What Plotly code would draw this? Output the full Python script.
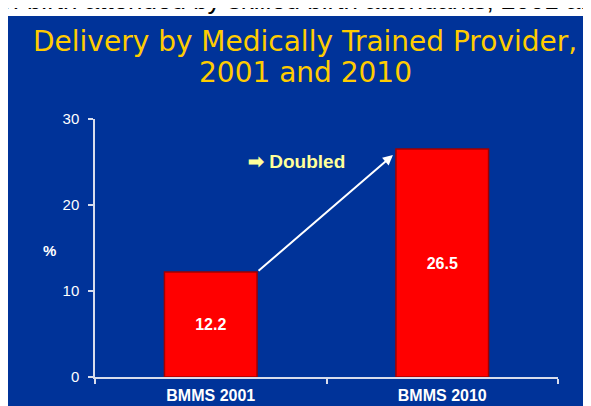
import plotly.graph_objects as go

categories = ["BMMS 2001", "BMMS 2010"]
values = [12.2, 26.5]
value_labels = ["12.2", "26.5"]
y_ticks = [0, 10, 20, 30]

BLUE = "#003399"
W, H = 591, 406
L, R, T, B = 87, 41, 111, 37
pw, ph = W - L - R, H - T - B


def px_x(px):
    return (px - L) / pw


def px_y(py):
    return (H - B - py) / ph


fig = go.Figure()
fig.add_trace(go.Bar(
    x=categories, y=values, width=0.4,
    marker=dict(color="#FF0000", line=dict(color="#A00000", width=1.5)),
    text=value_labels, textposition="inside", insidetextanchor="middle",
    textfont=dict(family="Liberation Sans, Arial", size=16, color="white"),
    texttemplate="<b>%{text}</b>", hoverinfo="skip",
))

axis_font = dict(family="Liberation Sans, Arial", color="white")
fig.update_layout(
    width=W, height=H, margin=dict(l=L, r=R, t=T, b=B, autoexpand=False),
    paper_bgcolor="white", plot_bgcolor=BLUE, showlegend=False,
    xaxis=dict(range=[-0.5, 1.5], showline=True, linecolor="#D8DCEC", linewidth=1.5,
               ticks="outside", tickson="boundaries", ticklen=5, tickcolor="#D8DCEC",
               tickwidth=1.5, showgrid=False, zeroline=False, automargin=False,
               ticklabelstandoff=3,
               tickfont=dict(size=16, **axis_font),
               tickprefix="<b>", ticksuffix="</b>"),
    yaxis=dict(range=[0, 30], tickvals=y_ticks, showline=True, linecolor="#D8DCEC",
               linewidth=1.5, ticks="outside", ticklen=5, tickcolor="#D8DCEC",
               tickwidth=1.5, showgrid=False, zeroline=False, automargin=False,
               ticklabelstandoff=6,
               tickfont=dict(size=15, **axis_font),
               tickprefix="<b>", ticksuffix="</b>"),
    shapes=[dict(type="rect", xref="paper", yref="paper", layer="below",
                 x0=px_x(0), x1=px_x(620), y0=px_y(430), y1=px_y(8),
                 fillcolor=BLUE, line=dict(width=0))],
)

fig.add_annotation(xref="paper", yref="paper", x=px_x(-12), y=px_y(-8),
                   xanchor="left", yanchor="middle", showarrow=False,
                   text="of birth attended by skilled birth attendants, 2001 and 2010",
                   font=dict(family="Liberation Sans, Arial", size=26, color="black"))

fig.add_annotation(xref="paper", yref="paper", x=px_x(297), y=px_y(33.5),
                   xanchor="center", yanchor="middle", showarrow=False,
                   text="Delivery by Medically Trained Provider,",
                   font=dict(family="DejaVu Sans", size=28, color="#FFCC00"))
fig.add_annotation(xref="paper", yref="paper", x=px_x(297), y=px_y(64.5),
                   xanchor="center", yanchor="middle", showarrow=False,
                   text="2001 and 2010",
                   font=dict(family="DejaVu Sans", size=28, color="#FFCC00"))

fig.add_annotation(xref="paper", yref="paper", x=px_x(33), y=px_y(242),
                   showarrow=False, text="<b>%</b>",
                   font=dict(size=15, **axis_font))

fig.add_annotation(xref="paper", yref="paper", x=px_x(288), y=px_y(141),
                   showarrow=False, text="<b>➡ Doubled</b>",
                   font=dict(family="Liberation Sans, Arial", size=19, color="#FFFF99"))

fig.add_annotation(x=0.787, y=25.8, xref="x", yref="y",
                   ax=0.2, ay=values[0], axref="x", ayref="y",
                   showarrow=True, arrowhead=2, arrowsize=1, arrowwidth=2,
                   arrowcolor="white", text="")

fig.write_html("out.html")
